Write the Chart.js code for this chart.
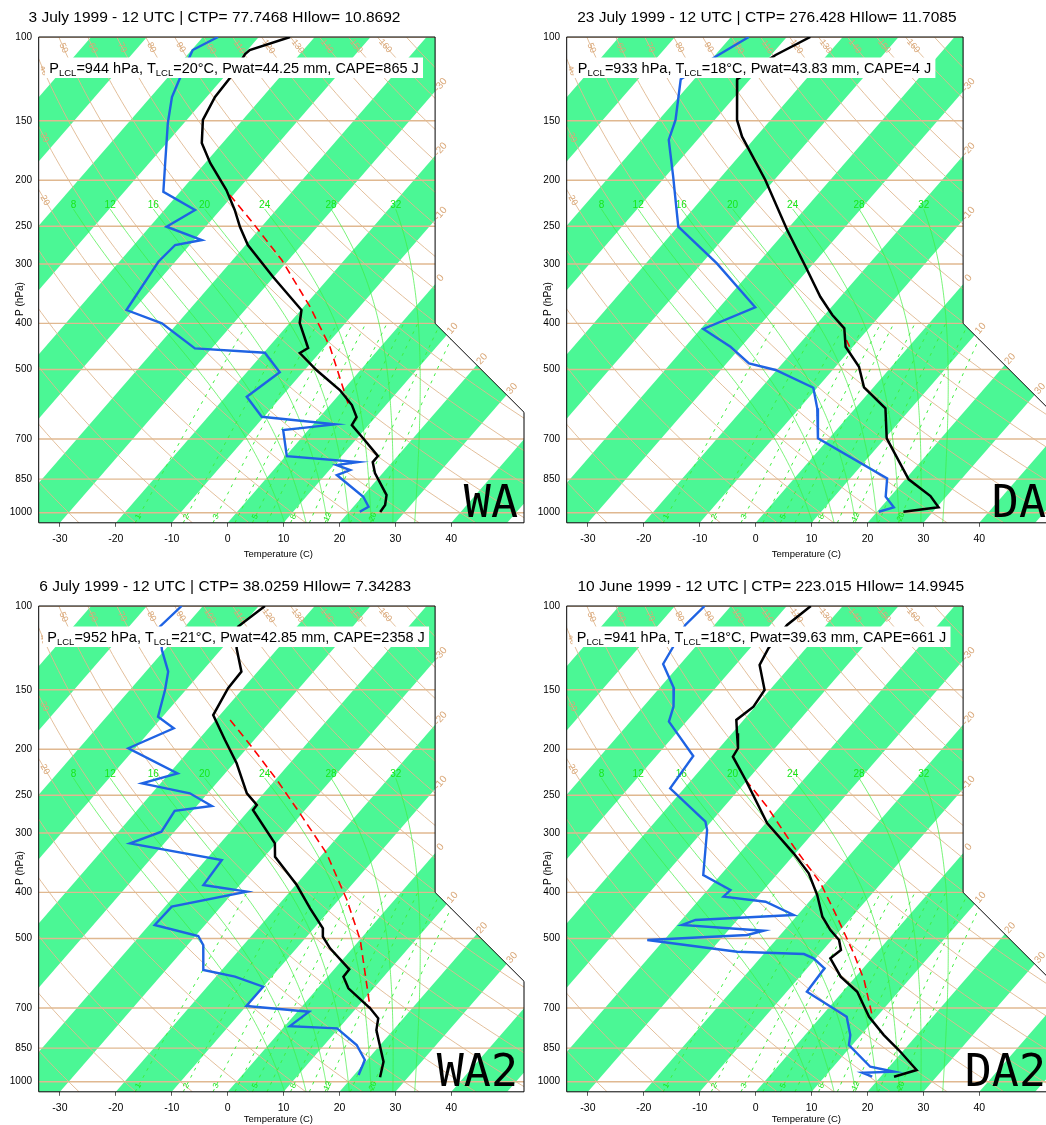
<!DOCTYPE html>
<html>
<head>
<meta charset="utf-8">
<script src="https://cdn.jsdelivr.net/npm/chart.js@4.4.1/dist/chart.umd.min.js"></script>
<style>
  html, body { margin: 0; padding: 0; background: #fff; width: 1046px; height: 1125px; overflow: hidden; }
  .panel { position: absolute; width: 530px; height: 560px; }
</style>
</head>
<body>
<div class="panel" style="left:0px;top:0px"><canvas id="c0" width="530" height="560"></canvas></div>
<div class="panel" style="left:527.5px;top:0px"><canvas id="c1" width="530" height="560"></canvas></div>
<div class="panel" style="left:0px;top:569px"><canvas id="c2" width="530" height="560"></canvas></div>
<div class="panel" style="left:527.5px;top:569px"><canvas id="c3" width="530" height="560"></canvas></div>
<script>
// ---- data (pressure hPa, temperature C) ----
const titles = [
  '3 July 1999 - 12 UTC | CTP= 77.7468 HIlow= 10.8692',
  '23 July 1999 - 12 UTC | CTP= 276.428 HIlow= 11.7085',
  '6 July 1999 - 12 UTC | CTP= 38.0259 HIlow= 7.34283',
  '10 June 1999 - 12 UTC | CTP= 223.015 HIlow= 14.9945'
];
const tags = ['WA', 'DA', 'WA2', 'DA2'];
const lclPres = [944, 933, 952, 941];
const lclTemp = [20, 18, 21, 18];
const pwat = ['44.25', '43.83', '42.85', '39.63'];
const cape = [865, 4, 2358, 661];

const xTicks = [-30, -20, -10, 0, 10, 20, 30, 40];
const yTicks = [100, 150, 200, 250, 300, 400, 500, 700, 850, 1000];

// background reference lines
const bandStarts = [-120, -100, -80, -60, -40, -20, 0, 20, 40];
const thetaLines = [-40, -30, -20, -10, 0, 10, 20, 30, 40, 50, 60, 70, 80, 90, 100, 110, 120, 130, 140, 150, 160, 170, 180];
const thetaLabels = [20, 30, 40, 50, 60, 70, 80, 90, 100, 110, 120, 130, 140, 150, 160];
const isoLabels = [-30, -20, -10, 0, 10, 20, 30];
const moistLines = [8, 12, 16, 20, 24, 28, 32];
const mixRatios = [1, 2, 3, 4, 5, 6, 8, 10, 12, 16, 20];
const mixLabels = [1, 2, 3, 5, 8, 12, 20];

// WA
const waTempP = [100, 106.5, 108.6, 121.9, 133.7, 149.4, 167.1, 184.0, 209.7, 231.0, 250.9, 273.7, 319.6, 374.9, 399.2, 450.6, 461.6, 501.2, 552.2, 593.8, 629.3, 654.2, 696.7, 760.3, 782.7, 825.3, 918.0, 963.5, 996.6];
const waTemp = [-64.4, -69.6, -69.8, -68.8, -68.5, -67.1, -63.7, -59.1, -52.0, -47.4, -43.8, -39.6, -30.1, -19.9, -18.2, -12.8, -13.5, -7.9, -0.6, 3.9, 6.6, 7.0, 11.0, 16.5, 16.5, 18.6, 24.1, 25.4, 25.6];
const waDewP = [100, 106.5, 108.6, 122.1, 133.7, 151.6, 184.3, 211.5, 231.0, 250.5, 267.2, 273.7, 296.8, 374.9, 399.8, 451.3, 461.0, 506.8, 570.4, 628.4, 652.0, 670.3, 760.3, 782.7, 794.1, 813.4, 833.3, 925.6, 971.4, 995.2];
const waDew = [-77.3, -79.8, -79.5, -77.7, -76.2, -72.9, -67.1, -63.0, -54.5, -57.0, -48.6, -52.6, -53.0, -51.2, -42.8, -33.0, -19.8, -14.1, -16.2, -10.4, 3.9, -4.5, 0.2, 13.9, 10.5, 13.7, 12.1, 20.2, 22.7, 21.9];
const waParcelP = [214.8, 246.5, 294.3, 368.9, 447.8, 593.8];
const waParcel = [-50.6, -42.0, -31.2, -18.9, -9.1, 3.3];

// DA
const daTempP = [100, 109.1, 122.7, 149.4, 162.0, 199.8, 254.6, 304.0, 351.6, 384.1, 409.6, 447.8, 493.3, 545.0, 603.3, 697.7, 850.8, 922.5, 974.2, 995.2];
const daTemp = [-65.8, -69.2, -72.3, -66.0, -62.5, -51.6, -39.9, -30.9, -23.6, -18.6, -14.4, -11.3, -5.8, -1.7, 5.4, 10.3, 20.6, 27.1, 30.3, 24.7];
const daDewP = [100, 110.0, 122.7, 149.4, 164.6, 196.6, 250.5, 299.1, 370.0, 411.0, 447.8, 485.3, 501.2, 546.1, 603.3, 697.7, 846.7, 925.6, 974.2, 995.2];
const daDew = [-76.8, -79.7, -82.4, -77.0, -75.1, -68.6, -59.9, -47.3, -33.6, -39.5, -31.9, -26.0, -20.2, -10.7, -6.8, -2.0, 16.6, 19.2, 22.3, 20.3];
const daParcelP = [433.5, 447.8];
const daParcel = [-12.2, -10.6];

// WA2
const wa2TempP = [100, 110.5, 122.7, 137.4, 148.9, 169.5, 191.3, 214.1, 247.6, 262.0, 268.5, 315.5, 336.5, 386.0, 432.0, 475.9, 495.7, 524.3, 580.4, 601.5, 636.4, 701.0, 735.8, 778.9, 907.9, 979.0];
const wa2Temp = [-68.9, -70.5, -67.4, -62.9, -62.7, -61.2, -55.2, -49.5, -43.0, -39.4, -39.3, -30.2, -28.1, -19.8, -13.8, -8.4, -7.1, -4.0, 2.7, 2.8, 5.5, 12.5, 15.5, 17.0, 23.2, 25.0];
const wa2DewP = [100, 110.5, 123.7, 137.4, 150.2, 170.9, 180.7, 199.1, 224.8, 235.9, 247.6, 263.3, 269.4, 298.2, 315.5, 342.0, 386.0, 398.6, 428.6, 468.3, 494.0, 516.0, 582.4, 601.5, 631.4, 693.3, 712.7, 764.0, 772.6, 837.3, 900.4, 968.2];
const wa2Dew = [-83.8, -84.5, -80.5, -76.0, -73.7, -70.8, -66.2, -71.2, -58.5, -63.3, -53.2, -47.3, -53.2, -52.3, -56.1, -37.1, -36.5, -27.7, -38.8, -39.0, -29.5, -27.2, -23.3, -16.6, -10.0, -10.0, 2.1, 0.9, 9.7, 15.8, 19.6, 20.8];
const wa2ParcelP = [173.6, 197.6, 232.1, 272.8, 331.1, 415.0, 503.6, 701.0];
const wa2Parcel = [-57.4, -49.4, -39.7, -30.4, -19.4, -8.5, 0.1, 12.5];

// DA2
const da2TempP = [100, 109.6, 122.7, 133.0, 150.2, 162.8, 173.6, 185.2, 199.1, 207.4, 232.1, 286.3, 331.1, 364.7, 405.1, 450.0, 479.9, 503.6, 528.7, 550.4, 601.5, 647.0, 730.1, 797.9, 857.8, 945.0, 976.1];
const da2Temp = [-65.7, -67.0, -66.7, -65.7, -60.9, -60.3, -61.3, -59.1, -56.6, -56.2, -50.3, -39.7, -30.3, -24.5, -19.6, -15.3, -11.8, -8.7, -6.8, -7.4, -2.7, 2.6, 8.6, 14.1, 19.1, 25.4, 22.4];
const da2DewP = [100, 109.6, 122.7, 132.4, 148.9, 162.8, 175.0, 206.7, 241.7, 284.1, 295.8, 367.7, 395.4, 408.4, 418.4, 446.3, 457.1, 468.3, 481.5, 491.6, 503.6, 533.0, 539.0, 550.4, 577.6, 647.0, 730.1, 797.9, 837.3, 930.1, 952.8, 957.4, 976.1];
const da2Dew = [-84.7, -85.2, -83.9, -83.1, -77.4, -74.6, -73.1, -63.4, -62.5, -51.0, -49.4, -43.1, -35.9, -36.1, -27.8, -20.7, -37.5, -39.1, -23.6, -25.9, -43.0, -25.1, -12.8, -10.4, -6.9, -6.4, 4.6, 8.1, 9.4, 16.6, 21.6, 16.1, 18.5];
const da2ParcelP = [232.1, 264.2, 320.7, 382.8, 450.0, 537.2, 611.2, 730.1];
const da2Parcel = [-50.3, -42.3, -31.3, -20.8, -12.7, -4.0, 2.0, 9.2];

const tempP = [waTempP, daTempP, wa2TempP, da2TempP];
const temp = [waTemp, daTemp, wa2Temp, da2Temp];
const dewP = [waDewP, daDewP, wa2DewP, da2DewP];
const dew = [waDew, daDew, wa2Dew, da2Dew];
const parcelP = [waParcelP, daParcelP, wa2ParcelP, da2ParcelP];
const parcel = [waParcel, daParcel, wa2Parcel, da2Parcel];

// ---- diagram geometry and style ----
const SKEW = 74;            // C of skew per decade of pressure
const PBOT = 1050, PTOP = 100;
const XMIN = -33.8, XMAX = 53.0, XCUT = 37.1, PCUT1 = 400, PCUT2 = 615;
const MOIST_TOP = 230, MIX_TOP = 400;
const FONT = '"Liberation Sans", Arial, Helvetica, sans-serif';
const TITLE_X = [28.5, 49.2, 39.3, 49.5];
const INFO_X = [45, 45.5, 43, 44.5];
const XTITLE_Y = [554, 554, 550, 550];

const GREEN_BAND = '#4bf795';
const TAN = '#e0b890';
const TAN_TEXT = '#d9a676';
const GREEN_LINE = '#3fee3f';
const GREEN_TEXT = '#19e619';
const BLUE = '#1f63e3';

function sx(t, p) { return t + SKEW * Math.log10(PBOT / p); }

function dryT(theta, p) { return (theta + 273.15) * Math.pow(p / 1000, 0.2857) - 273.15; }

function mixT(w, p) {
  const e = (w / 1000) * p / (0.622 + w / 1000);
  const l = Math.log(e / 6.112);
  return 243.5 * l / (17.67 - l);
}

function moistLapse(T, p) {
  const es = 6.112 * Math.exp(17.67 * (T - 273.15) / (T - 29.65));
  const rs = 0.622 * es / (p - es);
  const num = 287.04 * T + 2.5e6 * rs;
  const den = 1005.7 + 2.5e6 * 2.5e6 * rs * 0.622 / (287.04 * T * T);
  return num / (p * den);
}

function pseudoAdiabat(thw) {
  const up = [];
  let T = thw + 273.15;
  for (let k = 0; 1000 - 5 * k >= MOIST_TOP; k++) {
    const p = 1000 - 5 * k;
    up.push([p, T - 273.15]);
    const dp = -5;
    const k1 = moistLapse(T, p);
    const k2 = moistLapse(T + k1 * dp / 2, p + dp / 2);
    T += k2 * dp;
  }
  const down = [];
  T = thw + 273.15;
  for (let k = 1; k <= 10; k++) {
    const p = 1000 + 5 * (k - 1);
    const k1 = moistLapse(T, p);
    const k2 = moistLapse(T + k1 * 2.5, p + 2.5);
    T += k2 * 5;
    down.push([p + 5, T - 273.15]);
  }
  return down.reverse().concat(up);
}
const moistCurves = moistLines.map(pseudoAdiabat);

function logSteps(p0, p1, n) {
  const out = [];
  for (let k = 0; k <= n; k++) out.push(p0 * Math.pow(p1 / p0, k / n));
  return out;
}

function outlinePath(x, y) {
  const pts = [[XMIN, PBOT], [XMAX, PBOT], [XMAX, PCUT2], [XCUT, PCUT1], [XCUT, PTOP], [XMIN, PTOP]];
  const path = new Path2D();
  pts.forEach(([a, p], k) => {
    const X = x.getPixelForValue(a), Y = y.getPixelForValue(p);
    if (k) path.lineTo(X, Y); else path.moveTo(X, Y);
  });
  path.closePath();
  return path;
}

function rotText(ctx, text, X, Y, ang, font, color) {
  ctx.save();
  ctx.translate(X, Y);
  ctx.rotate(ang);
  ctx.font = font;
  ctx.fillStyle = color;
  ctx.textAlign = 'center';
  ctx.textBaseline = 'middle';
  ctx.fillText(text, 0, 0);
  ctx.restore();
}

const skewtBackground = {
  id: 'skewtBackground',
  beforeDatasetsDraw(chart) {
    const { ctx } = chart;
    const x = chart.scales.x, y = chart.scales.y;
    const px = (t, p) => x.getPixelForValue(sx(t, p));
    const py = (p) => y.getPixelForValue(p);
    const path = outlinePath(x, y);
    const line = (pts) => {
      ctx.beginPath();
      pts.forEach(([t, p], k) => { if (k) ctx.lineTo(px(t, p), py(p)); else ctx.moveTo(px(t, p), py(p)); });
      ctx.stroke();
    };

    ctx.save();
    ctx.clip(path);

    // alternating isotherm bands
    ctx.fillStyle = GREEN_BAND;
    bandStarts.forEach((t0) => {
      ctx.beginPath();
      ctx.moveTo(px(t0, PBOT), py(PBOT));
      ctx.lineTo(px(t0 + 10, PBOT), py(PBOT));
      ctx.lineTo(px(t0 + 10, PTOP), py(PTOP));
      ctx.lineTo(px(t0, PTOP), py(PTOP));
      ctx.closePath();
      ctx.fill();
    });

    // isobars
    ctx.strokeStyle = TAN;
    ctx.lineWidth = 1.4;
    yTicks.forEach((p) => {
      ctx.beginPath();
      ctx.moveTo(chart.chartArea.left, py(p));
      ctx.lineTo(chart.chartArea.right, py(p));
      ctx.stroke();
    });

    // dry adiabats
    ctx.lineWidth = 0.9;
    const steps = logSteps(PBOT, PTOP, 60);
    thetaLines.forEach((th) => line(steps.map((p) => [dryT(th, p), p])));

    // moist adiabats
    ctx.strokeStyle = GREEN_LINE;
    ctx.lineWidth = 0.7;
    moistCurves.forEach((c) => line(c.map(([p, t]) => [t, p])));

    // mixing ratio lines
    ctx.setLineDash([3, 5]);
    ctx.lineWidth = 1;
    const mSteps = logSteps(PBOT, MIX_TOP, 20);
    mixRatios.forEach((w) => line(mSteps.map((p) => [mixT(w, p), p])));
    ctx.setLineDash([]);

    // mixing ratio labels near the bottom
    mixLabels.forEach((w) => {
      const p0 = 1020, p1 = 980;
      const X0 = px(mixT(w, p0), p0), Y0 = py(p0);
      const X1 = px(mixT(w, p1), p1), Y1 = py(p1);
      rotText(ctx, String(w), X0, Y0, Math.atan2(Y1 - Y0, X1 - X0), `8px ${FONT}`, GREEN_TEXT);
    });
    ctx.restore();

    // outline
    ctx.save();
    ctx.strokeStyle = '#000';
    ctx.lineWidth = 1;
    ctx.stroke(path);

    // moist adiabat labels
    moistCurves.forEach((c, k) => {
      const [p, t] = c[c.length - 1];
      rotText(ctx, String(moistLines[k]), px(t, p), py(p) - 4, 0, `10px ${FONT}`, GREEN_TEXT);
    });

    // dry adiabat labels, where the line enters from the top or the left
    const down = logSteps(PTOP, PBOT, 600);
    thetaLabels.forEach((th) => {
      const k = down.findIndex((p) => ctx.isPointInPath(path, px(dryT(th, p), p), py(p)));
      if (k < 0) return;
      const p = down[k];
      const X0 = px(dryT(th, p), p), Y0 = py(p);
      const p2 = p * 1.04;
      let dx = px(dryT(th, p2), p2) - X0, dy = py(p2) - Y0;
      const len = Math.hypot(dx, dy); dx /= len; dy /= len;
      rotText(ctx, String(th), X0 + dx * 12, Y0 + dy * 12, Math.atan2(dy, dx), `9px ${FONT}`, TAN_TEXT);
    });

    // isotherm labels along the right edge
    const upw = logSteps(PBOT, PTOP, 800);
    isoLabels.forEach((t) => {
      const k = upw.findIndex((p) => !ctx.isPointInPath(path, px(t, p), py(p)) && px(t, p) > x.getPixelForValue(XMIN) + 5);
      if (k <= 0) return;
      const p = upw[k];
      const X0 = px(t, p), Y0 = py(p);
      let dx = px(t, p / 1.04) - X0, dy = py(p / 1.04) - Y0;
      const len = Math.hypot(dx, dy); dx /= len; dy /= len;
      rotText(ctx, String(t), X0 + dx * 8, Y0 + dy * 8, Math.atan2(dy, dx), `10px ${FONT}`, TAN_TEXT);
    });
    ctx.restore();
  }
};

const skewtText = {
  id: 'skewtText',
  afterDraw(chart) {
    const { ctx } = chart;
    const i = chart.options.panelIndex;
    const area = chart.chartArea;
    ctx.save();
    ctx.textAlign = 'left';
    ctx.textBaseline = 'alphabetic';
    ctx.fillStyle = '#000';

    // title
    ctx.font = `15.5px ${FONT}`;
    ctx.fillText(titles[i], TITLE_X[i], 22);

    // info box
    const big = `14.5px ${FONT}`, small = `9.5px ${FONT}`;
    const parts = [
      ['P', big, 0], ['LCL', small, 3],
      [`=${lclPres[i]} hPa, T`, big, 0], ['LCL', small, 3],
      [`=${lclTemp[i]}\u00B0C, Pwat=${pwat[i]} mm, CAPE=${cape[i]} J`, big, 0]
    ];
    let w = 0;
    parts.forEach(([t, f]) => { ctx.font = f; w += ctx.measureText(t).width; });
    ctx.fillStyle = '#fff';
    ctx.fillRect(INFO_X[i], 57.5, w + 8.5, 20.5);
    ctx.fillStyle = '#000';
    let cx = INFO_X[i] + 4.3;
    parts.forEach(([t, f, dy]) => { ctx.font = f; ctx.fillText(t, cx, 72.5 + dy); cx += ctx.measureText(t).width; });

    // panel tag
    ctx.font = '45px "DejaVu Sans Mono", monospace';
    ctx.textAlign = 'right';
    ctx.fillText(tags[i], 518, 517);

    // axis titles
    ctx.font = `9.5px ${FONT}`;
    ctx.textAlign = 'center';
    ctx.textBaseline = 'middle';
    ctx.fillText('Temperature (C)', (area.left + area.right) / 2 - 3, XTITLE_Y[i]);
    ctx.font = `10px ${FONT}`;
    ctx.translate(20, 299);
    ctx.rotate(-Math.PI / 2);
    ctx.fillText('P (hPa)', 0, 0);
    ctx.restore();
  }
};

function series(ps, ts) {
  return ps.map((p, k) => ({ x: sx(ts[k], p), y: p }));
}

function makeChart(i) {
  return new Chart(document.getElementById('c' + i), {
    type: 'scatter',
    data: {
      datasets: [
        { data: series(tempP[i], temp[i]), borderColor: '#000', borderWidth: 2.5 },
        { data: series(dewP[i], dew[i]), borderColor: BLUE, borderWidth: 2.4 },
        { data: series(parcelP[i], parcel[i]), borderColor: '#ff0000', borderWidth: 1.6, borderDash: [8, 5] }
      ].map((d) => Object.assign(d, { showLine: true, pointRadius: 0, tension: 0, fill: false }))
    },
    options: {
      panelIndex: i,
      responsive: false,
      animation: false,
      events: [],
      layout: { padding: { top: 37, right: 6, left: 0, bottom: 0 } },
      plugins: { legend: { display: false }, tooltip: { enabled: false }, title: { display: false } },
      scales: {
        x: {
          type: 'linear', min: XMIN, max: XMAX,
          afterBuildTicks: (s) => { s.ticks = xTicks.map((v) => ({ value: v })); },
          afterFit: (s) => { s.height = 37.2; },
          grid: { display: true, drawOnChartArea: false, drawTicks: true, tickLength: 4, color: '#333', lineWidth: 0.8 },
          border: { display: false },
          ticks: { font: { family: FONT, size: 10.5 }, color: '#000', padding: 6, maxRotation: 0, autoSkip: false }
        },
        y: {
          type: 'logarithmic', reverse: true, min: PTOP, max: PBOT,
          afterBuildTicks: (s) => { s.ticks = yTicks.map((v) => ({ value: v })); },
          afterFit: (s) => { s.width = 38.7; },
          grid: { display: false, drawTicks: false },
          border: { display: false },
          ticks: { font: { family: FONT, size: 10 }, color: '#000', padding: 6.7, autoSkip: false, callback: (v) => String(v) }
        }
      }
    },
    plugins: [skewtBackground, skewtText]
  });
}

[0, 1, 2, 3].forEach(makeChart);
</script>
</body>
</html>
